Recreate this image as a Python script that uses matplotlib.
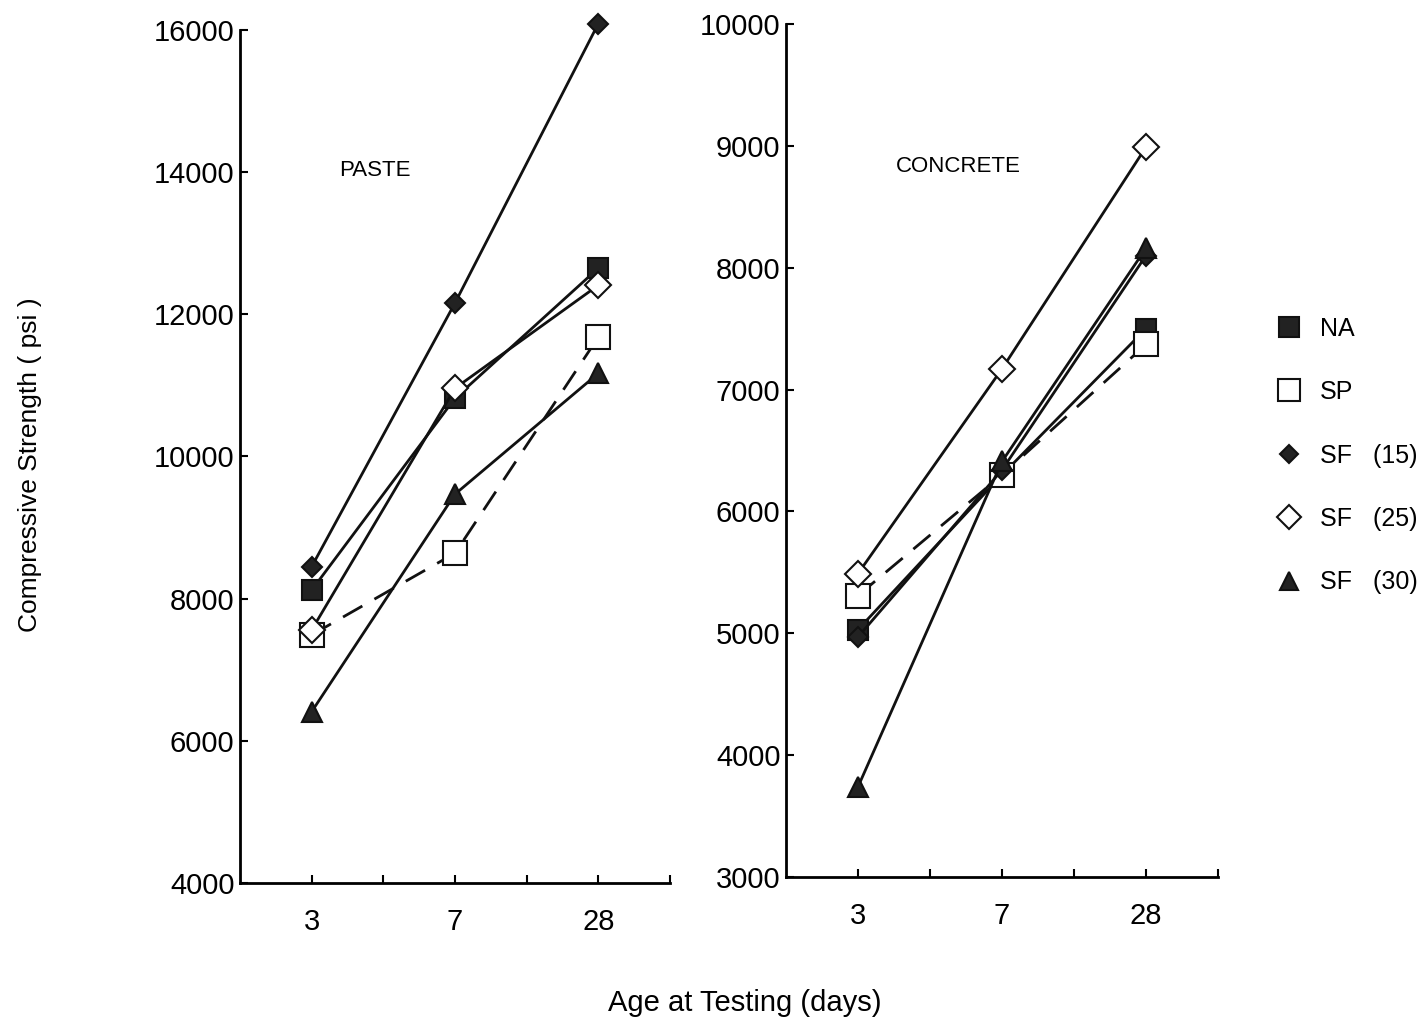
import matplotlib
matplotlib.use("Agg")
import matplotlib.pyplot as plt
from matplotlib.lines import Line2D

plt.rcParams['font.family'] = ['Liberation Sans', 'DejaVu Sans']

ages = ["3", "7", "28"]
series = ["NA", "SP", "SF   (15)", "SF   (25)", "SF   (30)"]

paste_na = [8120, 10820, 12650]
paste_sp = [7490, 8640, 11680]
paste_sf15 = [8450, 12160, 16090]
paste_sf25 = [7560, 10960, 12410]
paste_sf30 = [6410, 9470, 11170]

conc_na = [5030, 6300, 7500]
conc_sp = [5310, 6300, 7370]
conc_sf15 = [4970, 6340, 8100]
conc_sf25 = [5490, 7170, 8990]
conc_sf30 = [3740, 6410, 8160]

paste_yticks = [4000, 6000, 8000, 10000, 12000, 14000, 16000]
conc_yticks = [3000, 4000, 5000, 6000, 7000, 8000, 9000, 10000]

styles = [
    dict(marker='s', mfc='#222222', mec='#111111', ms=15, ls='-'),
    dict(marker='s', mfc='white', mec='#111111', ms=17, ls=(0, (8, 5))),
    dict(marker='D', mfc='#222222', mec='#111111', ms=10, ls='-'),
    dict(marker='D', mfc='white', mec='#111111', ms=13, ls='-'),
    dict(marker='^', mfc='#222222', mec='#111111', ms=14, ls='-'),
]

W, H = 1427, 1029
fig = plt.figure(figsize=(W / 100, H / 100), dpi=100)

ax1 = fig.add_axes([240 / W, 1 - 883 / H, 430 / W, 853 / H])
ax2 = fig.add_axes([786 / W, 1 - 877 / H, 432 / W, 853 / H])

xs = [1, 2, 3]

def draw(ax, data, yticks, title, tx, ty):
    for vals, st in zip(data, styles):
        ax.plot(xs, vals, color='#111111', lw=2.0, marker=st['marker'],
                ms=st['ms'], mfc=st['mfc'], mec=st['mec'], mew=1.5,
                ls=st['ls'], clip_on=False)
    ax.set_xlim(0.5, 3.5)
    ax.set_ylim(yticks[0], yticks[-1])
    ax.set_yticks(yticks)
    ax.set_yticklabels([str(v) for v in yticks], fontsize=21)
    ax.set_xticks(xs)
    ax.set_xticklabels(ages, fontsize=21)
    ax.set_xticks([1.5, 2.5, 3.5], minor=True)
    ax.tick_params(axis='both', which='both', direction='in', width=1.5)
    ax.tick_params(axis='y', length=6, pad=4)
    ax.tick_params(axis='x', which='both', length=6, pad=18)
    for s in ['top', 'right']:
        ax.spines[s].set_visible(False)
    for s in ['left', 'bottom']:
        ax.spines[s].set_linewidth(2.0)
    ax.text(tx, ty, title, transform=ax.transAxes, fontsize=16,
            ha='center', va='center')

draw(ax1, [paste_na, paste_sp, paste_sf15, paste_sf25, paste_sf30],
     paste_yticks, "PASTE", (375 - 240) / 430, (883 - 170) / 853)
draw(ax2, [conc_na, conc_sp, conc_sf15, conc_sf25, conc_sf30],
     conc_yticks, "CONCRETE", (958 - 786) / 432, (877 - 166) / 853)

fig.text(745 / W, 1 - 1003 / H, "Age at Testing (days)", fontsize=21,
         ha='center', va='center')
fig.text(30 / W, 1 - 465 / H, "Compressive Strength ( psi )", fontsize=19,
         ha='center', va='center', rotation=90)

handles = []
for st in styles:
    handles.append(Line2D([], [], color='#111111', lw=0, marker=st['marker'],
                          ms=st['ms'] * 0.95, mfc=st['mfc'], mec=st['mec'],
                          mew=1.5))
fig.legend(handles, series, loc='upper left',
           bbox_to_anchor=(1254 / W, 1 - 294 / H), frameon=False,
           fontsize=18, handlelength=1.0, handletextpad=0.75,
           labelspacing=1.58)

fig.savefig("out.png", dpi=100)
